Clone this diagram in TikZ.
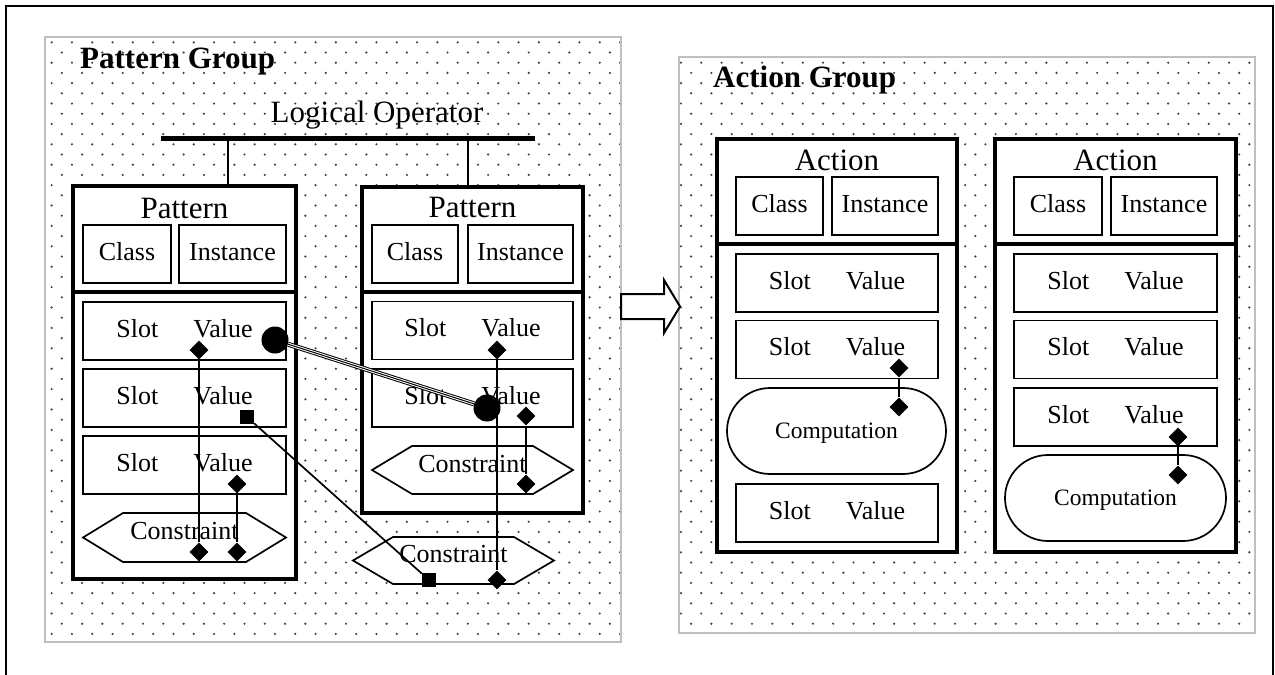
\documentclass[tikz,border=0pt]{standalone}
\usepackage{fontspec}
\setmainfont{Liberation Serif}
\usetikzlibrary{shapes.geometric,shapes.misc}

\newcommand\txtL{\fontsize{31pt}{31pt}\selectfont}
\newcommand\txtM{\fontsize{26pt}{26pt}\selectfont}
\newcommand\txtS{\fontsize{23.5pt}{23.5pt}\selectfont}

\tikzset{
  grpedge/.style={draw=black!25, line width=1.8pt},
  dotc/.style={fill=black!75},
  grptitle/.style={font=\txtL\bfseries, anchor=base west, inner sep=0pt},
  heavybox/.style={draw, line width=3.8pt, fill=white, inner sep=0pt},
  heavyline/.style={line width=3.8pt},
  cellbox/.style={draw, line width=1.9pt, fill=white, inner sep=0pt,
    minimum height=58pt, font=\txtM, text height=12pt, text depth=0pt},
  headtxt/.style={font=\txtL, anchor=base, inner sep=0pt},
  hexline/.style={draw, line width=1.7pt, fill=white, line join=miter},
  hextxt/.style={font=\txtM, anchor=base, inner sep=0pt},
  compbox/.style={rounded rectangle, draw, line width=1.7pt, fill=white,
    inner sep=0pt, minimum height=86pt, font=\txtS, text height=14pt, text depth=0pt},
  dmd/.style={diamond, fill=black, inner sep=0pt, minimum width=19pt, minimum height=19pt},
  sqr/.style={rectangle, fill=black, inner sep=0pt, minimum size=14pt},
  blob/.style={circle, fill=black, inner sep=0pt, minimum size=27pt},
  link/.style={line width=1.7pt},
  triple/.style={line width=5pt, postaction={draw=white, line width=3pt},
    postaction={draw=black, line width=1pt}},
}

% staggered dot raster shared by both group panels
\newcommand\dotgrid[4]{%
  \foreach \j in {#3,...,#4}{
    \pgfmathsetmacro\yy{42.3+10.2*\j}
    \pgfmathsetmacro\xo{mod(\j+1,2)*10.15}
    \foreach \i in {#1,...,#2}{
      \fill[dotc] ({41.5+\xo+20.3*\i},\yy) circle[radius=1.2pt];
    }
  }}

\begin{document}
\begin{tikzpicture}[x=1pt, y=-1pt]
\useasboundingbox (0,0) rectangle (1275,675);

% outer frame
\draw[line width=1.5pt] (6,700) -- (6,6) -- (1273,6) -- (1273,700);

% ---------- dotted group panels ----------
\fill[white] (45,37) rectangle (621,642);
\begin{scope}
  \clip (45,37) rectangle (621,642);
  \dotgrid{-1}{29}{-1}{59}
\end{scope}
\draw[grpedge] (45,37) rectangle (621,642);

\fill[white] (679,57) rectangle (1255,633);
\begin{scope}
  \clip (679,57) rectangle (1255,633);
  \dotgrid{30}{60}{0}{59}
\end{scope}
\draw[grpedge] (679,57) rectangle (1255,633);

\node[grptitle] (pgtitle) at (80,68) {Pattern Group};
\node[grptitle] (agtitle) at (713,87) {Action Group};

% ---------- logical operator ----------
\node[headtxt] (lotxt) at (377,122) {Logical Operator};
\coordinate (lo1) at (161,138);
\coordinate (lo2) at (535,138);
\draw[line width=5pt] (lo1) -- (lo2);

% ---------- left pattern ----------
\node[heavybox, minimum width=223pt, minimum height=393pt] (pat1) at (184.5,382.5) {};
\coordinate (dv1) at (0,292);
\draw[heavyline] (pat1.west |- dv1) -- (pat1.east |- dv1);
\node[headtxt] (pat1h) at (184.5,218) {Pattern};
\node[cellbox, minimum width=88pt] (pat1c) at (127,254) {Class};
\node[cellbox, minimum width=107pt] (pat1i) at (232.5,254) {Instance};
\node[cellbox, minimum width=203pt] (pat1s1) at (184.5,331) {Slot\hspace{35pt}Value};
\node[cellbox, minimum width=203pt] (pat1s2) at (184.5,398) {Slot\hspace{35pt}Value};
\node[cellbox, minimum width=203pt] (pat1s3) at (184.5,465) {Slot\hspace{35pt}Value};
\filldraw[hexline] (83,537.5) -- (123,513) -- (246,513) -- (286,537.5) -- (246,562) -- (123,562) -- cycle;
\node[hextxt] (pat1k) at (184.5,539) {Constraint};

% ---------- right pattern ----------
\node[heavybox, minimum width=221pt, minimum height=326pt] (pat2) at (472.5,350) {};
\draw[heavyline] (pat2.west |- dv1) -- (pat2.east |- dv1);
\node[headtxt] (pat2h) at (472.5,217) {Pattern};
\node[cellbox, minimum width=86pt] (pat2c) at (415,254) {Class};
\node[cellbox, minimum width=105pt] (pat2i) at (520.5,254) {Instance};
\node[cellbox, minimum width=201pt] (pat2s1) at (472.5,330.5) {Slot\hspace{35pt}Value};
\node[cellbox, minimum width=201pt] (pat2s2) at (472.5,398) {Slot\hspace{35pt}Value};
\filldraw[hexline] (372,470) -- (412,446) -- (533,446) -- (573,470) -- (533,494) -- (412,494) -- cycle;
\node[hextxt] (pat2k) at (472.5,472) {Constraint};

% operator legs
\coordinate (leg1) at (228,138);
\coordinate (leg2) at (468,138);
\draw[link] (leg1) -- (leg1 |- pat1.north);
\draw[link] (leg2) -- (leg2 |- pat2.north);

% ---------- shared constraint ----------
\filldraw[hexline] (353,560.5) -- (393,537) -- (514,537) -- (554,560.5) -- (514,584) -- (393,584) -- cycle;
\node[hextxt] (jointk) at (453.5,562) {Constraint};

% ---------- left action ----------
\node[heavybox, minimum width=240pt, minimum height=413pt] (act1) at (837,345.5) {};
\coordinate (dv2) at (0,244);
\draw[heavyline] (act1.west |- dv2) -- (act1.east |- dv2);
\node[headtxt] (act1h) at (837,170) {Action};
\node[cellbox, minimum width=87pt] (act1c) at (779.5,206) {Class};
\node[cellbox, minimum width=106pt] (act1i) at (885,206) {Instance};
\node[cellbox, minimum width=202pt] (act1s1) at (837,283) {Slot\hspace{35pt}Value};
\node[cellbox, minimum width=202pt] (act1s2) at (837,349.5) {Slot\hspace{35pt}Value};
\node[compbox, minimum width=219pt] (act1p) at (836.5,431) {Computation};
\node[cellbox, minimum width=202pt] (act1s3) at (837,513) {Slot\hspace{35pt}Value};

% ---------- right action ----------
\node[heavybox, minimum width=241pt, minimum height=413pt] (act2) at (1115.5,345.5) {};
\draw[heavyline] (act2.west |- dv2) -- (act2.east |- dv2);
\node[headtxt] (act2h) at (1115.5,170) {Action};
\node[cellbox, minimum width=88pt] (act2c) at (1058,206) {Class};
\node[cellbox, minimum width=106pt] (act2i) at (1164,206) {Instance};
\node[cellbox, minimum width=203pt] (act2s1) at (1115.5,283) {Slot\hspace{35pt}Value};
\node[cellbox, minimum width=203pt] (act2s2) at (1115.5,349.5) {Slot\hspace{35pt}Value};
\node[cellbox, minimum width=203pt] (act2s3) at (1115.5,417) {Slot\hspace{35pt}Value};
\node[compbox, minimum width=221pt] (act2p) at (1115.5,498) {Computation};

% ---------- hollow arrow between groups ----------
\filldraw[draw=black, fill=white, line width=2pt, line join=miter]
  (621,294) -- (664,294) -- (664,280) -- (680,306.5) -- (664,333) -- (664,319) -- (621,319) -- cycle;

% ---------- markers ----------
\node[dmd] (d11) at (199,350) {};
\node[dmd] (d12) at (199,552) {};
\node[dmd] (d13) at (237,484) {};
\node[dmd] (d14) at (237,552) {};
\node[sqr] (sq1) at (247,417) {};
\node[blob] (bl1) at (275,340) {};
\node[dmd] (d21) at (497,350) {};
\node[dmd] (d22) at (526,416) {};
\node[dmd] (d23) at (526,484) {};
\node[blob] (bl2) at (487,408) {};
\node[dmd] (d31) at (497,580) {};
\node[sqr] (sq2) at (429,580) {};
\node[dmd] (a1) at (899,368) {};
\node[dmd] (a2) at (899,407) {};
\node[dmd] (b1) at (1178,437) {};
\node[dmd] (b2) at (1178,475) {};

% ---------- connectors ----------
\draw[link] (d11) -- (d12);
\draw[link] (d13) -- (d14);
\draw[link] (sq1) -- (sq2);
\draw[link] (d21) -- (d31);
\draw[link] (d22) -- (d23);
\draw[link] (a1) -- (a2);
\draw[link] (b1) -- (b2);
\draw[triple] (bl1) -- (bl2);

\end{tikzpicture}
\end{document}
